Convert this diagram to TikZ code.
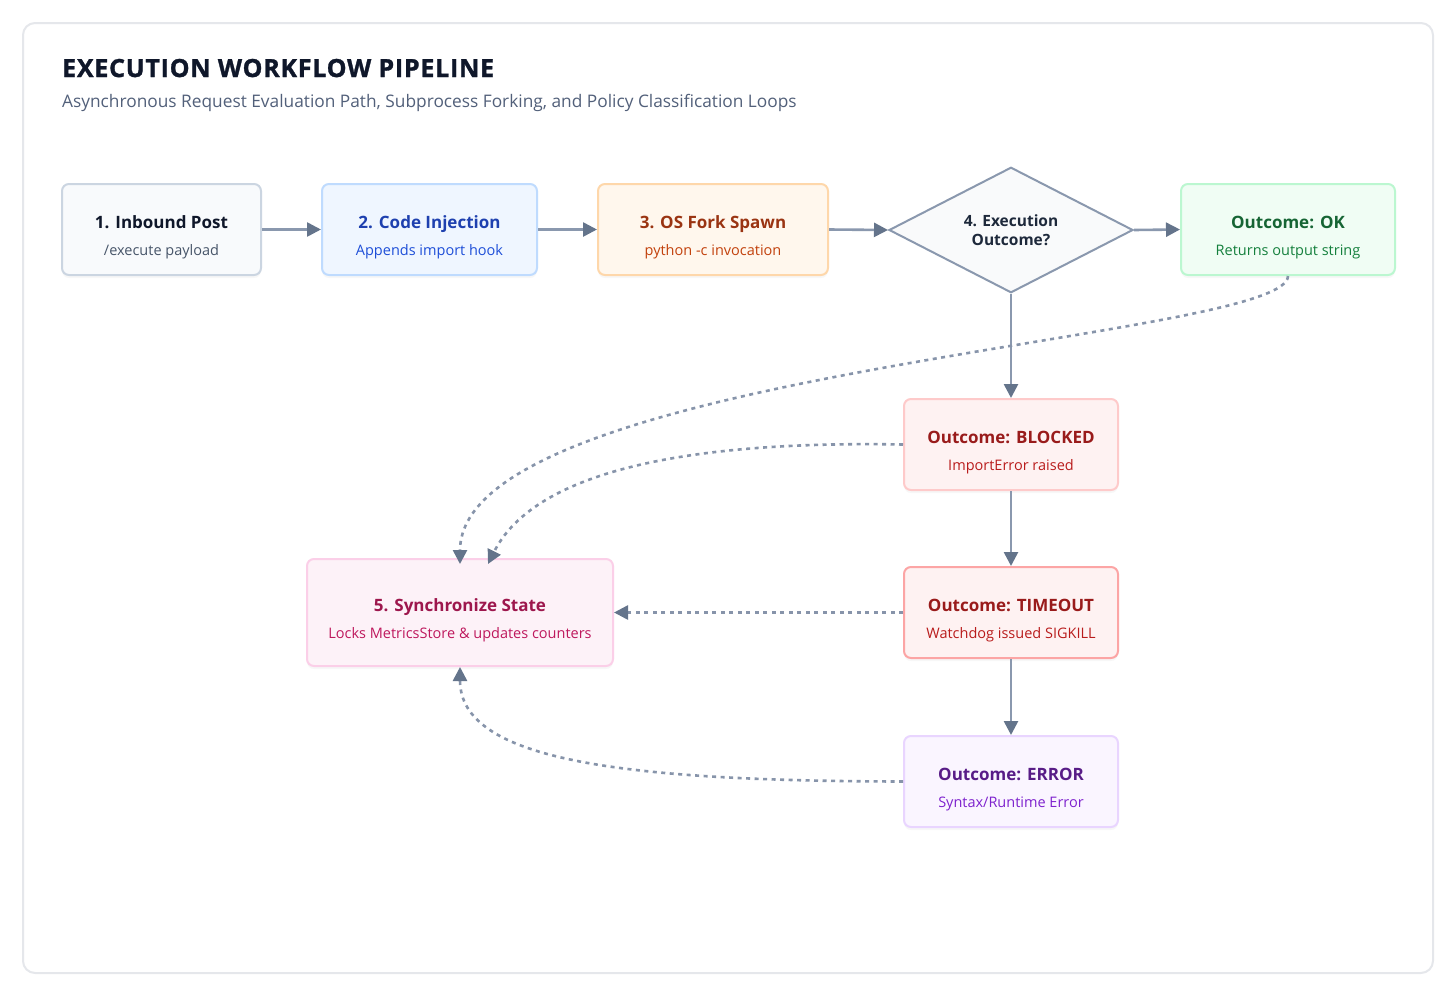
\documentclass[tikz,border=0pt]{standalone}
\usepackage{fontspec}
\setmainfont{Open Sans}
\usetikzlibrary{arrows.meta,shapes.geometric,shadows}
\definecolor{frame}{HTML}{E5E7EB}
\definecolor{ttl}{HTML}{0F172A}
\definecolor{subttl}{HTML}{52607A}
\definecolor{shaft}{HTML}{8A98AE}
\definecolor{head}{HTML}{64748B}
\definecolor{dash}{HTML}{8794AA}
% node palettes
\definecolor{aF}{HTML}{F8FAFC}\definecolor{aD}{HTML}{CBD5E1}\definecolor{aT}{HTML}{0F172A}\definecolor{aS}{HTML}{475569}
\definecolor{bF}{HTML}{EFF6FF}\definecolor{bD}{HTML}{BFDBFE}\definecolor{bT}{HTML}{1E40AF}\definecolor{bS}{HTML}{1D4ED8}
\definecolor{cF}{HTML}{FFF7ED}\definecolor{cD}{HTML}{FED7AA}\definecolor{cT}{HTML}{9A3412}\definecolor{cS}{HTML}{C2410C}
\definecolor{dF}{HTML}{F9FAFB}\definecolor{dD}{HTML}{8A98AE}\definecolor{dT}{HTML}{1E293B}
\definecolor{eF}{HTML}{F0FDF4}\definecolor{eD}{HTML}{BBF7D0}\definecolor{eT}{HTML}{166534}\definecolor{eS}{HTML}{15803D}
\definecolor{fF}{HTML}{FEF2F2}\definecolor{fD}{HTML}{FECACA}\definecolor{fT}{HTML}{991B1B}\definecolor{fS}{HTML}{B91C1C}
\definecolor{gD}{HTML}{FCA5A5}
\definecolor{hF}{HTML}{FAF5FF}\definecolor{hD}{HTML}{E9D5FF}\definecolor{hT}{HTML}{581C87}\definecolor{hS}{HTML}{7E22CE}
\definecolor{iF}{HTML}{FDF2F8}\definecolor{iD}{HTML}{FBCFE8}\definecolor{iT}{HTML}{9D174D}\definecolor{iS}{HTML}{BE185D}
\newcommand{\bxtxt}[4]{\raisebox{0pt}[\dimexpr\height+14pt\relax][\depth]{\begin{tabular}{@{}c@{}}{\fontsize{17}{27}\selectfont\bfseries\color{#3}#1}\\{\color{#4}#2}\end{tabular}}}
\tikzset{
  box/.style={draw, rounded corners=7pt, line width=2pt, align=center,
    font=\fontsize{14.5}{27}\selectfont, inner sep=0pt,
    drop shadow={opacity=0.06, shadow xshift=0pt, shadow yshift=-3pt}},
  flow/.style={draw=shaft, line width=2.6pt, -{Triangle[length=14pt,width=14pt,color=head]}},
  loop/.style={draw=dash, line width=2.6pt, dash pattern=on 4pt off 4.5pt,
    -{Triangle[length=14pt,width=14pt,color=head]}}
}
\begin{document}
\begin{tikzpicture}[x=1pt,y=-1pt]
\useasboundingbox (0,0) rectangle (1456,996);
\draw[frame, line width=2pt, rounded corners=12pt, fill=white] (23,23) rectangle (1433,973);
\node[anchor=base west, inner sep=0pt, text=ttl, font=\fontsize{25}{30}\selectfont\bfseries\addfontfeature{LetterSpace=3,FakeBold=1.2}] (title) at (62,77) {EXECUTION WORKFLOW PIPELINE};
\node[anchor=base west, inner sep=0pt, text=subttl, font=\fontsize{17.3}{20}\selectfont] (subtitle) at (62,107) {Asynchronous Request Evaluation Path, Subprocess Forking, and Policy Classification Loops};

\node[box, fill=aF, draw=aD, minimum width=199pt, minimum height=91pt] (n1) at (161.5,229.5) {\bxtxt{1. Inbound Post}{/execute payload}{aT}{aS}};
\node[box, fill=bF, draw=bD, minimum width=215pt, minimum height=91pt] (n2) at (429.5,229.5) {\bxtxt{2. Code Injection}{Appends import hook}{bT}{bS}};
\node[box, fill=cF, draw=cD, minimum width=230pt, minimum height=91pt] (n3) at (713,229.5) {\bxtxt{3. OS Fork Spawn}{python -c invocation}{cT}{cS}};
\node[diamond, draw=dD, fill=dF, line width=2pt, minimum width=244pt, minimum height=122pt, inner sep=0pt, align=center, text=dT,
  font=\fontsize{15.5}{19}\selectfont\bfseries] (n4) at (1011,230) {4. Execution\\Outcome?};
\node[box, fill=eF, draw=eD, minimum width=214pt, minimum height=91pt] (ok) at (1288,229.5) {\bxtxt{Outcome: OK}{Returns output string}{eT}{eS}};
\node[box, fill=fF, draw=fD, minimum width=214pt, minimum height=91pt] (blk) at (1011,444.5) {\bxtxt{Outcome: BLOCKED}{ImportError raised}{fT}{fS}};
\node[box, fill=fF, draw=gD, minimum width=214pt, minimum height=91pt] (tmo) at (1011,612.5) {\bxtxt{Outcome: TIMEOUT}{Watchdog issued SIGKILL}{fT}{fS}};
\node[box, fill=hF, draw=hD, minimum width=214pt, minimum height=91pt] (err) at (1011,781.5) {\bxtxt{Outcome: ERROR}{Syntax/Runtime Error}{hT}{hS}};
\node[box, fill=iF, draw=iD, minimum width=306pt, minimum height=107pt] (sync) at (460,612.5) {\bxtxt{5. Synchronize State}{Locks MetricsStore \& updates counters}{iT}{iS}};

\draw[flow] (n1.east) -- (n2.west);
\draw[flow] (n2.east) -- (n3.west);
\draw[flow] (n3.east) -- (n4.west);
\draw[flow] (n4.east) -- (ok.west);
\draw[flow] (n4.south) -- (blk.north);
\draw[flow] (blk.south) -- (tmo.north);
\draw[flow] (tmo.south) -- (err.north);

\coordinate (okend) at ([yshift=-6pt]sync.north);
\coordinate (blkend) at ([xshift=28pt,yshift=-6pt]sync.north);
\draw[loop] (ok.south) .. controls (1287,340) and (460,370) .. (okend);
\draw[loop] (blk.west) .. controls (660,440) and (530,480) .. (blkend);
\draw[loop] (tmo.west) -- (sync.east);
\draw[loop] (err.west) .. controls (620,781) and (460,760) .. (sync.south);
\end{tikzpicture}
\end{document}
